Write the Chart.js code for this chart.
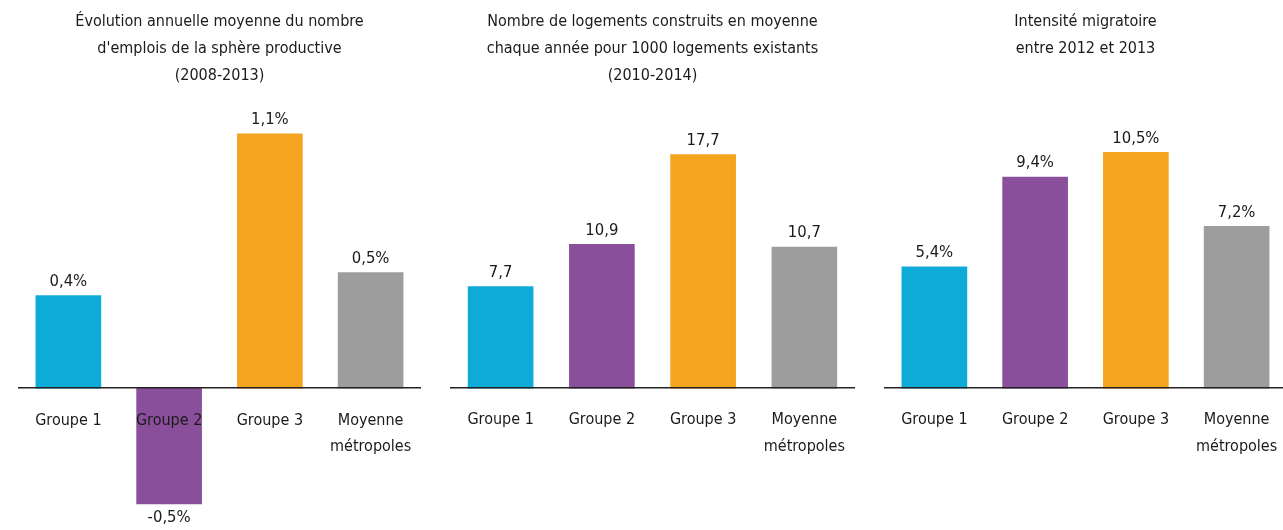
<!DOCTYPE html>
<html>
<head>
<meta charset="utf-8">
<script src="https://cdn.jsdelivr.net/npm/chart.js@4/dist/chart.umd.min.js"></script>
<style>
  html, body { margin: 0; padding: 0; background: #fff; overflow: hidden; }
  body { width: 1283px; height: 530px; position: relative; }
  .box { position: absolute; top: 0; height: 530px; }
</style>
</head>
<body>
<div class="box" style="left:18px;width:403px"><canvas id="chart1"></canvas></div>
<div class="box" style="left:450px;width:405px"><canvas id="chart2"></canvas></div>
<div class="box" style="left:884px;width:403px"><canvas id="chart3"></canvas></div>
<script>
var categories = ["Groupe 1", "Groupe 2", "Groupe 3", ["Moyenne", "métropoles"]];

var emploiValues = [0.4, -0.5, 1.1, 0.5];
var logementValues = [7.7, 10.9, 17.7, 10.7];
var migrationValues = [5.4, 9.4, 10.5, 7.2];

var titles = [
    ["Évolution annuelle moyenne du nombre", "d'emplois de la sphère productive", "(2008-2013)"],
    ["Nombre de logements construits en moyenne", "chaque année pour 1000 logements existants", "(2010-2014)"],
    ["Intensité migratoire", "entre 2012 et 2013"]
];

var colors = ["#0EABD9", "#8A4F9B", "#F4A41E", "#9D9D9D"];
var fontFamily = "'DejaVu Sans Condensed', 'Liberation Sans Narrow', sans-serif";
var textColor = "#1a1a1a";

var frNumber = function(v) {
    return v.toFixed(1).replace(".", ",");
};

// value labels above (or under) each bar
var valueLabels = {
    id: 'valueLabels',
    afterDatasetsDraw: function(chart, args, opts) {
        var ctx = chart.ctx;
        var meta = chart.getDatasetMeta(0);
        var data = chart.data.datasets[0].data;
        ctx.save();
        ctx.font = "16.5px " + fontFamily;
        ctx.fillStyle = textColor;
        ctx.textAlign = "center";
        ctx.textBaseline = "middle";
        meta.data.forEach(function(bar, i) {
            var v = data[i];
            var txt = frNumber(v) + opts.suffix;
            var y = v >= 0 ? bar.y - 14 : bar.y + 14;
            ctx.fillText(txt, bar.x, y);
        });
        ctx.restore();
    }
};

function makeChart(id, values, title, suffix, yMin, yMax, titlePadBottom) {
    var ctx = document.getElementById(id);
    return new Chart(ctx, {
        type: 'bar',
        data: {
            labels: categories,
            datasets: [{
                data: values,
                backgroundColor: colors,
                barThickness: 65
            }]
        },
        options: {
            responsive: true,
            maintainAspectRatio: false,
            animation: false,
            layout: { padding: { top: 0, bottom: 18, left: 0, right: 0 } },
            plugins: {
                legend: { display: false },
                tooltip: { enabled: false },
                title: {
                    display: true,
                    text: title,
                    color: textColor,
                    font: { family: fontFamily, size: 16, weight: 'normal', lineHeight: 1.7 },
                    padding: { top: 8, bottom: titlePadBottom }
                },
                valueLabels: { suffix: suffix }
            },
            scales: {
                x: {
                    position: { y: 0 },
                    // tick length pushes the labels down without adding side padding
                    grid: { display: false, drawTicks: true, tickLength: 19 },
                    border: { display: true, color: '#222222', width: 1.5, z: 1 },
                    ticks: {
                        z: 1,
                        color: textColor,
                        font: { family: fontFamily, size: 16, lineHeight: 1.65 },
                        padding: 0,
                        maxRotation: 0,
                        minRotation: 0
                    }
                },
                y: {
                    display: false,
                    min: yMin,
                    max: yMax
                }
            }
        },
        plugins: [valueLabels]
    });
}

makeChart('chart1', emploiValues, titles[0], '%', -0.535, 1.239, 12);
makeChart('chart2', logementValues, titles[1], '', -9.39, 21.72, 12);
makeChart('chart3', migrationValues, titles[2], '%', -5.52, 12.77, 39);
</script>
</body>
</html>
